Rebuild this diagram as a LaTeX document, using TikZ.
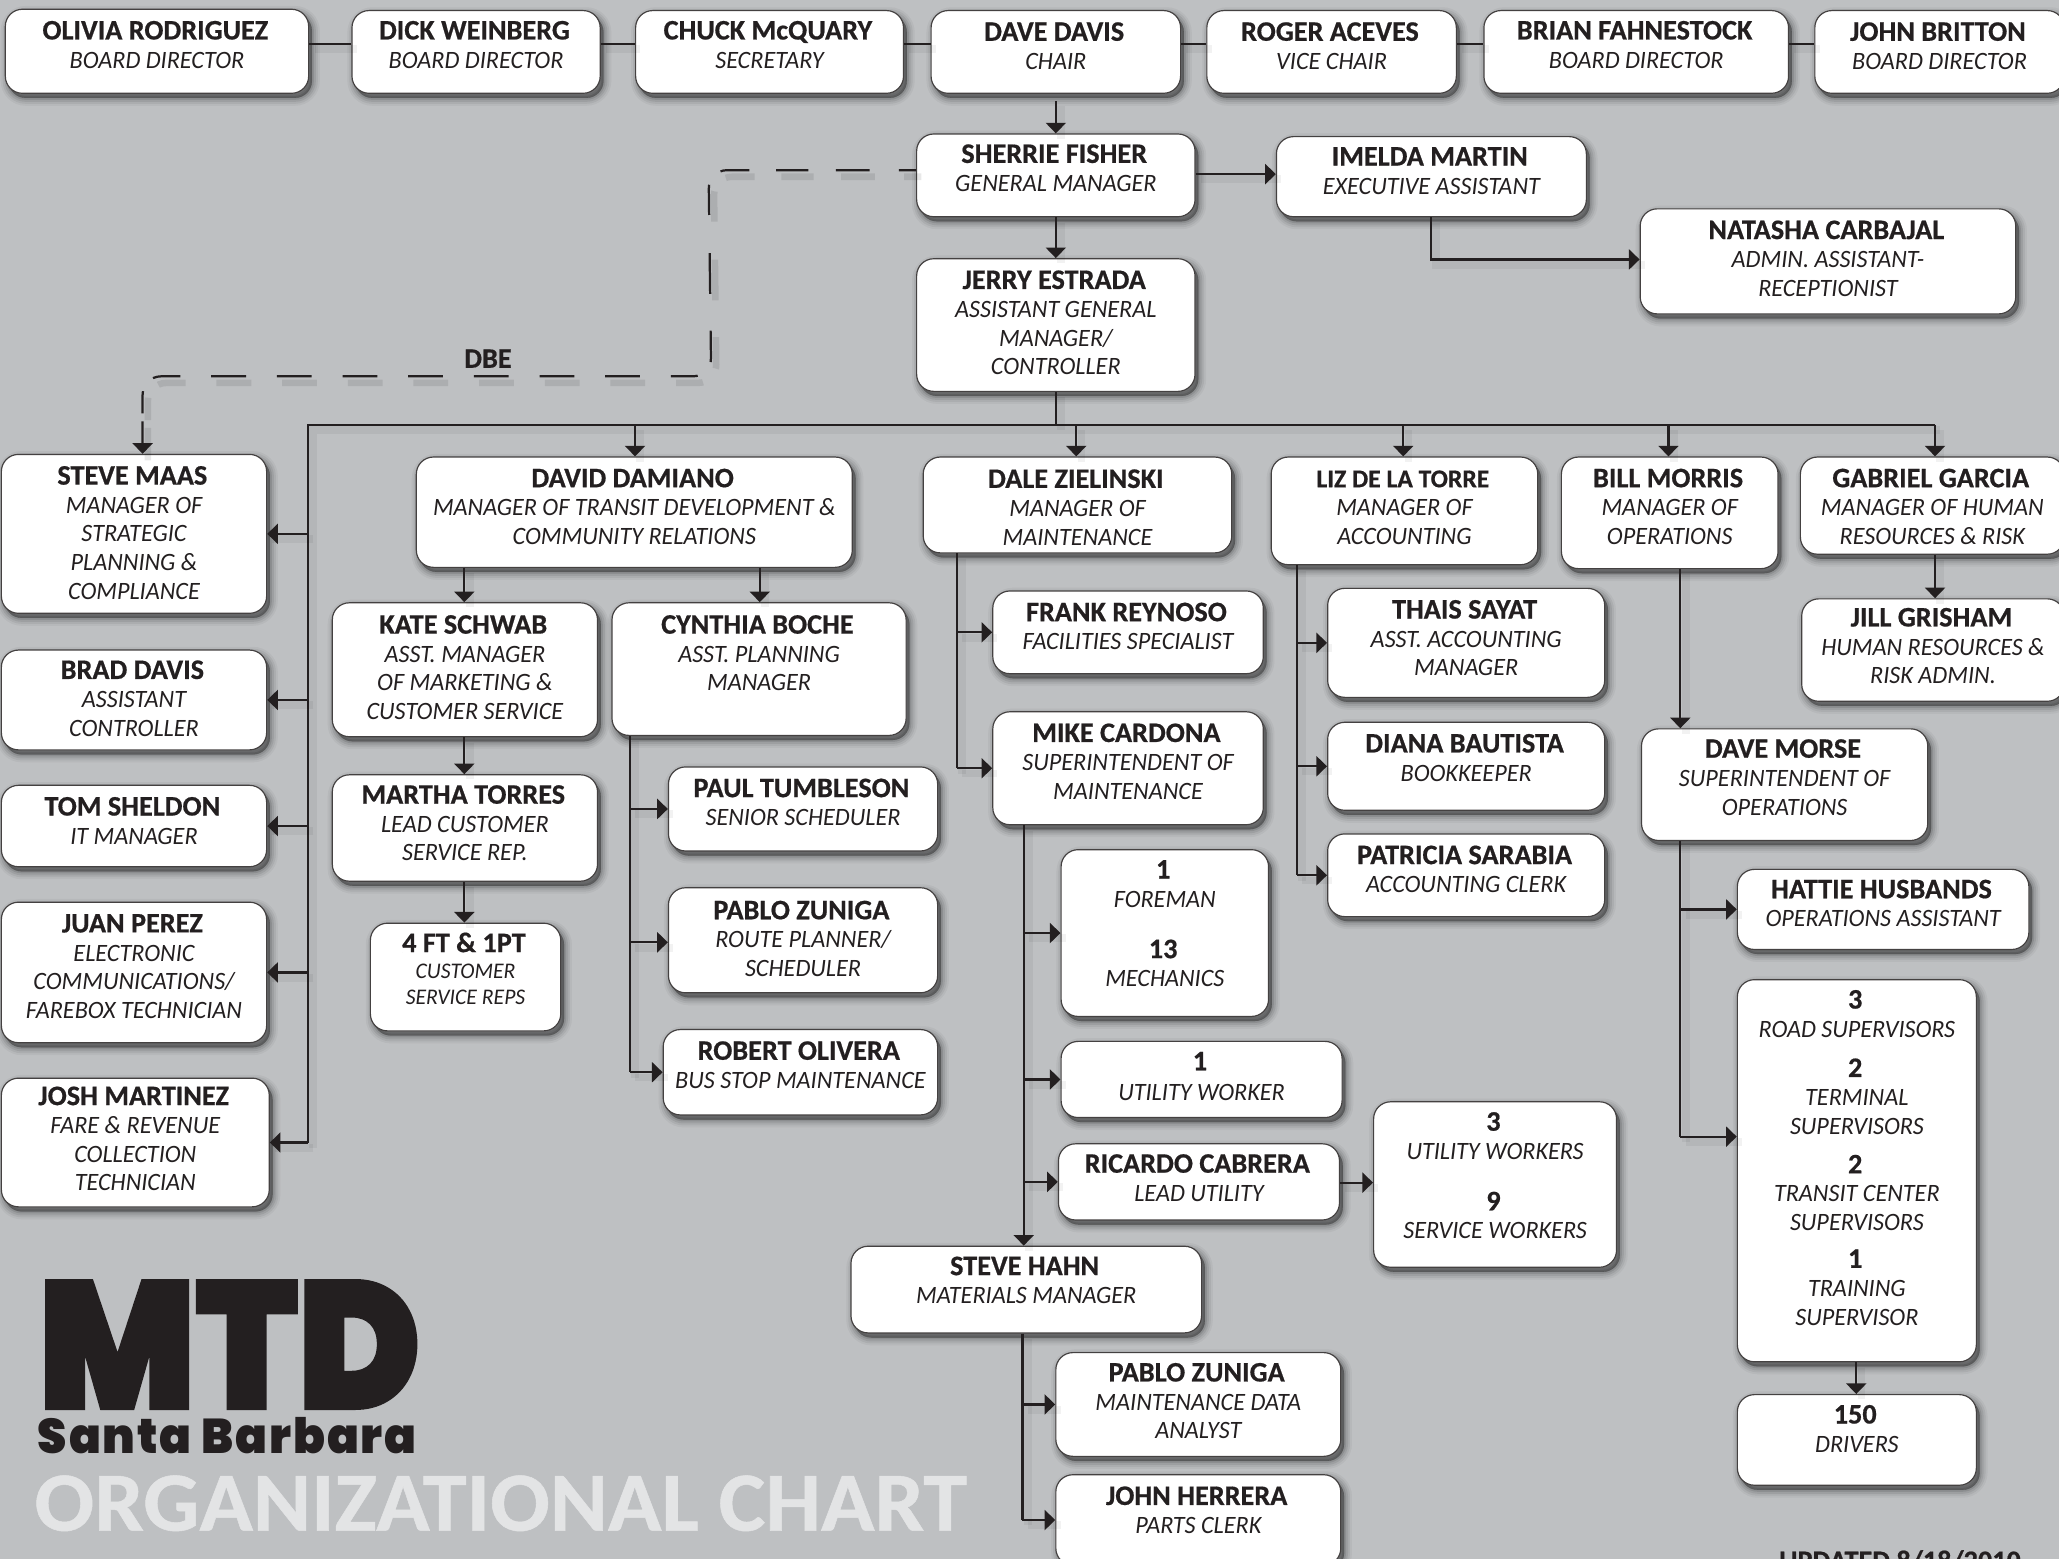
\documentclass[tikz,border=0pt]{standalone}
\usepackage{fontspec}
\usepackage{graphicx}
\setmainfont{Carlito}[BoldFeatures={FakeBold=0.6},ItalicFeatures={FakeStretch=0.97}]
\newfontfamily\heavyf{Poppins Black}[FakeBold=2]
\newfontfamily\heavyg{Poppins Black}[LetterSpace=4]
\usetikzlibrary{arrows.meta}
\definecolor{ink}{HTML}{231F20}
\definecolor{bgc}{HTML}{BEC0C2}
\definecolor{pale}{HTML}{E3E4E5}
\newcommand{\FR}{}
\newcommand{\N}[1]{{\fontsize{21.5}{21.8}\selectfont\bfseries\leavevmode\FR\gdef\FR{}#1\kern2.5pt\par}}
\newcommand{\Nn}[1]{{\fontsize{19.5}{21.8}\selectfont\bfseries\leavevmode\FR\gdef\FR{}#1\kern2.5pt\par}}
\newcommand{\R}[1]{{\fontsize{19}{21.8}\selectfont\itshape\leavevmode\FR\gdef\FR{}#1\par}}
\newcommand{\Rs}[1]{{\fontsize{17}{20}\selectfont\itshape\leavevmode\FR\gdef\FR{}#1\par}}
\newcommand{\G}[1]{\vskip #1pt}
\tikzset{
 orgbox/.style={draw=ink!85,line width=.9pt,fill=white,rounded corners=13pt,inner sep=0pt,anchor=north west,text=ink,
  preaction={draw=black,fill=black,draw opacity=.04,fill opacity=.04,line width=12pt,transform canvas={shift={(2.5pt,-3.5pt)}}},
  preaction={draw=black,fill=black,draw opacity=.06,fill opacity=.06,line width=9pt,transform canvas={shift={(2.5pt,-3.5pt)}}},
  preaction={draw=black,fill=black,draw opacity=.08,fill opacity=.08,line width=6pt,transform canvas={shift={(2.5pt,-3.5pt)}}},
  preaction={draw=black,fill=black,draw opacity=.10,fill opacity=.10,line width=3pt,transform canvas={shift={(2.5pt,-3.5pt)}}},
  preaction={draw=black,fill=black,draw opacity=.10,fill opacity=.10,line width=.5pt,transform canvas={shift={(2.5pt,-3.5pt)}}}},
 wire/.style={draw=ink,line width=1.7pt,
  preaction={draw=black,draw opacity=.05,line width=6pt,arrows=-,transform canvas={shift={(4pt,-4pt)}}}},
 arr/.style={wire,-{Triangle[length=8.1pt,width=15.2pt]}},
 dbedash/.style={dash pattern=on 13pt off 22.4pt on 25.6pt off 21pt on 24.5pt off 20.5pt on 22pt off 14pt on 23pt off 29pt on 31pt off 28pt on 24pt off 15pt on 20.5pt off 23.5pt on 26.5pt off 23.5pt on 26.5pt off 23.5pt on 26.5pt off 23.5pt on 26.5pt off 23.5pt on 26.5pt off 23.5pt on 26.5pt off 23.5pt on 26.5pt off 23.5pt on 21pt off 13pt on 17pt off 6pt on 100pt off 1pt},
 dashline/.style={draw=ink,line width=1.7pt,rounded corners=14pt,dbedash,
  preaction={draw=black,draw opacity=.09,line width=5pt,arrows=-,dbedash,transform canvas={shift={(4pt,-5pt)}}},
  -{Triangle[length=8.1pt,width=15.2pt]}},
}
% id x1 y1 x2 y2 first-line-centre content
\newcommand{\obox}[7]{%
 \pgfmathsetmacro\bw{#4-#2}\pgfmathsetmacro\bh{#5-#3}\pgfmathsetmacro\fh{#6-#3+7}%
 \node[orgbox] (#1) at (#2,#3) {\parbox[t][\bh pt][t]{\bw pt}{\centering\baselineskip=21.8pt\gdef\FR{\rule{0pt}{\fh pt}}#7}};}
\begin{document}
\begin{tikzpicture}[x=1pt,y=-1pt]
\useasboundingbox (0.4,0.4) rectangle (1568.4,1187.6);
\fill[bgc] (0,0) rectangle (1569,1188);
% top row
\obox{oliv}{4}{7}{235}{71}{23}{\N{OLIVIA RODRIGUEZ}\R{BOARD DIRECTOR}}
\obox{dick}{268}{8}{457}{71}{23}{\N{DICK WEINBERG}\R{BOARD DIRECTOR}}
\obox{chuck}{484}{8}{688}{71}{23}{\N{CHUCK McQUARY}\R{SECRETARY}}
\obox{dave}{709}{8}{899}{71}{24}{\N{DAVE DAVIS}\R{CHAIR}}
\obox{roger}{919}{8}{1109}{71}{24}{\N{ROGER ACEVES}\R{VICE CHAIR}}
\obox{brian}{1130}{8}{1362}{71}{23}{\N{BRIAN FAHNESTOCK}\R{BOARD DIRECTOR}}
\obox{john}{1382}{8}{1572}{71}{24}{\N{JOHN BRITTON}\R{BOARD DIRECTOR}}
% management
\obox{sherrie}{698}{102}{910}{165}{117}{\N{SHERRIE FISHER}\R{GENERAL MANAGER}}
\obox{imelda}{972}{104}{1208}{165}{119}{\N{IMELDA MARTIN}\R{EXECUTIVE ASSISTANT}}
\obox{natasha}{1249}{159}{1535}{239}{175}{\N{NATASHA CARBAJAL}\R{ADMIN. ASSISTANT-}\R{RECEPTIONIST}}
\obox{jerry}{698}{197}{910}{298}{213}{\N{JERRY ESTRADA}\R{ASSISTANT GENERAL}\R{MANAGER/}\R{CONTROLLER}}
% left column
\obox{maas}{1}{346}{203}{467}{362}{\N{STEVE MAAS}\R{MANAGER OF}\R{STRATEGIC}\R{PLANNING \&}\R{COMPLIANCE}}
\obox{brad}{1}{495}{203}{571}{510}{\N{BRAD DAVIS}\R{ASSISTANT}\R{CONTROLLER}}
\obox{tom}{1}{598}{203}{660}{614}{\N{TOM SHELDON}\R{IT MANAGER}}
\obox{juan}{1}{687}{203}{794}{703}{\N{JUAN PEREZ}\R{ELECTRONIC}\R{COMMUNICATIONS/}\R{FAREBOX TECHNICIAN}}
\obox{josh}{1}{821}{205}{919}{834.5}{\N{JOSH MARTINEZ}\R{FARE \& REVENUE}\R{COLLECTION}\R{TECHNICIAN}}
% transit development
\obox{damiano}{317}{348}{649}{432}{364}{\N{DAVID DAMIANO}\R{MANAGER OF TRANSIT DEVELOPMENT \&}\R{COMMUNITY RELATIONS}}
\obox{kate}{253}{459}{455}{561}{475.5}{\N{KATE SCHWAB}\R{ASST. MANAGER}\R{OF MARKETING \&}\R{CUSTOMER SERVICE}}
\obox{cynthia}{466}{459}{690}{560}{475.5}{\N{CYNTHIA BOCHE}\R{ASST. PLANNING}\R{MANAGER}}
\obox{martha}{253}{590}{455}{671}{605}{\N{MARTHA TORRES}\R{LEAD CUSTOMER}\R{SERVICE REP.}}
\obox{ftpt}{282}{703}{427}{785}{718}{\N{4 FT \& 1PT}\Rs{CUSTOMER}\Rs{SERVICE REPS}}
\obox{paul}{509}{584}{714}{648}{600}{\N{PAUL TUMBLESON}\R{SENIOR SCHEDULER}}
\obox{pablo}{509}{676}{714}{756}{693}{\N{PABLO ZUNIGA}\R{ROUTE PLANNER/}\R{SCHEDULER}}
\obox{robert}{505}{784}{714}{849}{800}{\N{ROBERT OLIVERA}\R{BUS STOP MAINTENANCE}}
% maintenance
\obox{dale}{703}{348}{938}{421}{364.5}{\N{DALE ZIELINSKI}\R{MANAGER OF}\R{MAINTENANCE}}
\obox{frank}{756}{450}{962}{513}{466}{\N{FRANK REYNOSO}\R{FACILITIES SPECIALIST}}
\obox{mike}{756}{542}{962}{628}{558}{\N{MIKE CARDONA}\R{SUPERINTENDENT OF}\R{MAINTENANCE}}
\obox{foreman}{808}{647}{966}{774}{662}{\N{1}\R{FOREMAN}\G{17}\N{13}\R{MECHANICS}}
\obox{utilone}{808}{793}{1022}{851}{808}{\N{1}\G{1}\R{UTILITY WORKER}}
\obox{ricardo}{806}{871}{1020}{929}{886}{\N{RICARDO CABRERA}\R{LEAD UTILITY}}
\obox{utilthree}{1046}{839}{1231}{965}{854}{\N{3}\R{UTILITY WORKERS}\G{17}\N{9}\R{SERVICE WORKERS}}
\obox{hahn}{648}{949}{915}{1015}{964}{\N{STEVE HAHN}\R{MATERIALS MANAGER}}
\obox{pablob}{804}{1030}{1021}{1109}{1045}{\N{PABLO ZUNIGA}\R{MAINTENANCE DATA}\R{ANALYST}}
\obox{herrera}{804}{1123}{1021}{1192}{1139}{\N{JOHN HERRERA}\R{PARTS CLERK}}
% accounting
\obox{liz}{968}{348}{1171}{430}{364}{\Nn{LIZ DE LA TORRE}\R{MANAGER OF}\R{ACCOUNTING}}
\obox{thais}{1011}{448}{1222}{531}{464}{\N{THAIS SAYAT}\R{ASST. ACCOUNTING}\R{MANAGER}}
\obox{diana}{1011}{550}{1222}{617}{566}{\N{DIANA BAUTISTA}\R{BOOKKEEPER}}
\obox{patricia}{1011}{635}{1222}{698}{651}{\N{PATRICIA SARABIA}\R{ACCOUNTING CLERK}}
% operations
\obox{bill}{1189}{348}{1354}{433}{364}{\N{BILL MORRIS}\R{MANAGER OF}\R{OPERATIONS}}
\obox{morse}{1250}{555}{1468}{640}{570}{\N{DAVE MORSE}\R{SUPERINTENDENT OF}\R{OPERATIONS}}
\obox{hattie}{1323}{662}{1545}{723}{677}{\N{HATTIE HUSBANDS}\R{OPERATIONS ASSISTANT}}
\obox{road}{1323}{746}{1505}{1037}{761}{\N{3}\R{ROAD SUPERVISORS}\G{8.5}\N{2}\R{TERMINAL}\R{SUPERVISORS}\G{8}\N{2}\R{TRANSIT CENTER}\R{SUPERVISORS}\G{6.5}\N{1}\R{TRAINING}\R{SUPERVISOR}}
\obox{drivers}{1323}{1062}{1505}{1131}{1077}{\N{150}\R{DRIVERS}}
% human resources
\obox{gabriel}{1371}{348}{1572}{422}{364}{\N{GABRIEL GARCIA}\R{MANAGER OF HUMAN}\R{RESOURCES \& RISK}}
\obox{jill}{1372}{456}{1572}{534}{470}{\N{JILL GRISHAM}\R{HUMAN RESOURCES \&}\R{RISK ADMIN.}}
% labels
\node[text=ink,font=\bfseries\fontsize{21.5}{24}\selectfont] (dbe) at (372,273.5) {DBE};
\node[inner sep=0pt,anchor=south west,text=ink] (mtd) at (29.5,1073) {\resizebox{291pt}{97pt}{\heavyf MTD}};
\node[inner sep=0pt,anchor=base west,text=ink] (sb) at (29,1107) {\resizebox{288.5pt}{27.5pt}{\heavyg Santa Barbara}};
\node[inner sep=0pt,anchor=base west,text=pale] (orgt) at (26.5,1166) {\resizebox{710pt}{42pt}{\bfseries ORGANIZATIONAL CHART}};
\node[inner sep=0pt,anchor=base west,text=ink,font=\bfseries\fontsize{21.5}{24}\selectfont] (upd) at (1355,1196) {UPDATED 8/18/2010};
% coordinates
\coordinate (toprow) at (0,34);
\coordinate (tr) at (235,324);
\coordinate (tra) at (484,324);
\coordinate (trb) at (820,324);
\coordinate (trc) at (1069,324);
\coordinate (trd) at (1271,324);
\coordinate (tre) at (1474,324);
\coordinate (kx) at (354,0);
\coordinate (cx) at (579,0);
\coordinate (cyt) at (480,0);
\coordinate (dlt) at (729,0);
\coordinate (mkt) at (780,0);
\coordinate (hnt) at (779,0);
\coordinate (lzt) at (988,0);
\coordinate (blt) at (1280,0);
\coordinate (jlx) at (1474,0);
\coordinate (rdy) at (0,866);
\coordinate (utly) at (0,901);
\coordinate (imx) at (1090,0);
\coordinate (naty) at (0,198);
\coordinate (shy) at (0,133);
\coordinate (rdx) at (1414,0);
\coordinate (paby) at (0,718);
% top row links
\draw[wire] (oliv.east |- toprow) -- (dick.west |- toprow);
\draw[wire] (dick.east |- toprow) -- (chuck.west |- toprow);
\draw[wire] (chuck.east |- toprow) -- (dave.west |- toprow);
\draw[wire] (dave.east |- toprow) -- (roger.west |- toprow);
\draw[wire] (roger.east |- toprow) -- (brian.west |- toprow);
\draw[wire] (brian.east |- toprow) -- (john.west |- toprow);
\draw[arr] ([yshift=-5.5pt]dave.south) -- (sherrie.north -| dave.south);
\draw[arr] (sherrie.east |- shy) -- (imelda.west |- shy);
\draw[arr] (sherrie.south) -- (jerry.north);
\draw[arr] (imelda.south -| imx) -- (imx |- naty) -- (natasha.west |- naty);
% dashed
\coordinate (da) at (698,130);
\coordinate (db) at (540,130);
\coordinate (dc) at (542,287);
\coordinate (dd) at (109,287);
\draw[dashline] (da) -- (db) -- (dc) -- (dd) -- (dd |- maas.north);
% trunk
\draw[wire] (jerry.south) -- (jerry.south |- tr);
\draw[wire] (tre) -- (tr) -- (tr |- josh.east);
\draw[arr] (tr |- maas.east) -- (maas.east);
\draw[arr] (tr |- brad.east) -- (brad.east);
\draw[arr] (tr |- tom.east) -- (tom.east);
\draw[arr] (tr |- juan.east) -- (juan.east);
\draw[arr] (tr |- josh.east) -- (josh.east);
\draw[arr] (tra) -- (tra |- damiano.north);
\draw[arr] (trb) -- (trb |- dale.north);
\draw[arr] (trc) -- (trc |- liz.north);
\draw[arr] (trd) -- (trd |- bill.north);
\draw[arr] (tre) -- (tre |- gabriel.north);
% damiano
\draw[arr] (kx |- damiano.south) -- (kx |- kate.north);
\draw[arr] (cx |- damiano.south) -- (cx |- cynthia.north);
\draw[arr] (kx |- kate.south) -- (kx |- martha.north);
\draw[arr] (kx |- martha.south) -- (kx |- ftpt.north);
\draw[wire] (cyt |- cynthia.south) -- (cyt |- robert.west);
\draw[arr] (cyt |- paul.west) -- (paul.west);
\draw[arr] (cyt |- paby) -- (pablo.west |- paby);
\draw[arr] (cyt |- robert.west) -- (robert.west);
% dale
\draw[wire] (dlt |- dale.south) -- (dlt |- mike.west);
\draw[arr] (dlt |- frank.west) -- (frank.west);
\draw[arr] (dlt |- mike.west) -- (mike.west);
\draw[arr] (mkt |- mike.south) -- (mkt |- hahn.north);
\draw[arr] (mkt |- foreman.west) -- (foreman.west);
\draw[arr] (mkt |- utilone.west) -- (utilone.west);
\draw[arr] (mkt |- ricardo.west) -- (ricardo.west);
\draw[arr] (ricardo.east |- utly) -- (utilthree.west |- utly);
\draw[wire] (hnt |- hahn.south) -- (hnt |- herrera.west);
\draw[arr] (hnt |- pablob.west) -- (pablob.west);
\draw[arr] (hnt |- herrera.west) -- (herrera.west);
% liz
\draw[wire] (lzt |- liz.south) -- (lzt |- patricia.west);
\draw[arr] (lzt |- thais.west) -- (thais.west);
\draw[arr] (lzt |- diana.west) -- (diana.west);
\draw[arr] (lzt |- patricia.west) -- (patricia.west);
% bill
\draw[arr] (blt |- bill.south) -- (blt |- morse.north);
\draw[wire] (blt |- morse.south) -- (blt |- rdy);
\draw[arr] (blt |- hattie.west) -- (hattie.west);
\draw[arr] (blt |- rdy) -- (road.west |- rdy);
\draw[arr] (rdx |- road.south) -- (rdx |- drivers.north);
\draw[arr] (jlx |- gabriel.south) -- (jlx |- jill.north);
\end{tikzpicture}
\end{document}
